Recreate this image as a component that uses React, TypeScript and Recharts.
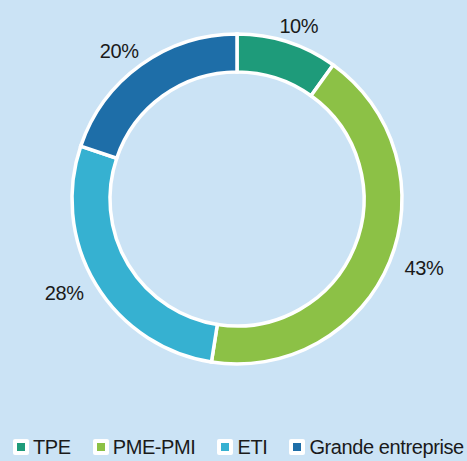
import { Cell, Legend, Pie, PieChart } from 'recharts';

const categories = ['TPE', 'PME-PMI', 'ETI', 'Grande entreprise'];
const shares = [10, 43, 28, 20];
const colors = ['#1e9b7a', '#8cc146', '#36b1d1', '#1e6ea8'];

const data = categories.map((name, i) => ({ name, value: shares[i] }));

const RADIAN = Math.PI / 180;
const FONT = '"Liberation Sans", Arial, sans-serif';

function renderLabel({ cx, cy, midAngle, value }: any) {
  const x = cx + 202 * Math.cos(-midAngle * RADIAN);
  const y = cy + 182 * Math.sin(-midAngle * RADIAN);
  return (
    <text x={x} y={y} textAnchor="middle" dominantBaseline="central" fill="#1a1a1a" fontSize={20} letterSpacing={-0.4} fontFamily={FONT}>
      {value}%
    </text>
  );
}

function LegendContent() {
  return (
    <div style={{ display: 'flex', alignItems: 'center', gap: 22, paddingLeft: 13, fontFamily: FONT, fontSize: 20, letterSpacing: -0.4, color: '#1a1a1a' }}>
      {categories.map((name, i) => (
        <div key={name} style={{ display: 'flex', alignItems: 'center', gap: 4 }}>
          <span style={{ width: 16, height: 16, background: '#fff', borderRadius: 2, display: 'flex', alignItems: 'center', justifyContent: 'center' }}>
            <span style={{ width: 8, height: 8, background: colors[i] }} />
          </span>
          <span style={{ lineHeight: '20px', whiteSpace: 'nowrap' }}>{name}</span>
        </div>
      ))}
    </div>
  );
}

export default function App() {
  return (
    <div style={{ width: 467, height: 461, background: '#cbe3f5', position: 'relative' }}>
      <style>{'body{margin:0}'}</style>
      <PieChart width={467} height={461} margin={{ top: 0, right: 0, bottom: 0, left: 0 }}>
        <Pie
          data={data}
          dataKey="value"
          nameKey="name"
          cx={237}
          cy={199}
          innerRadius={127}
          outerRadius={165}
          startAngle={90}
          endAngle={-270}
          stroke="#ffffff"
          strokeWidth={3.5}
          label={renderLabel}
          labelLine={false}
          isAnimationActive={false}
        >
          {data.map((d, i) => (
            <Cell key={d.name} fill={colors[i]} />
          ))}
        </Pie>
        <Legend content={<LegendContent />} wrapperStyle={{ left: 0, top: 437, width: 467 }} />
      </PieChart>
    </div>
  );
}
